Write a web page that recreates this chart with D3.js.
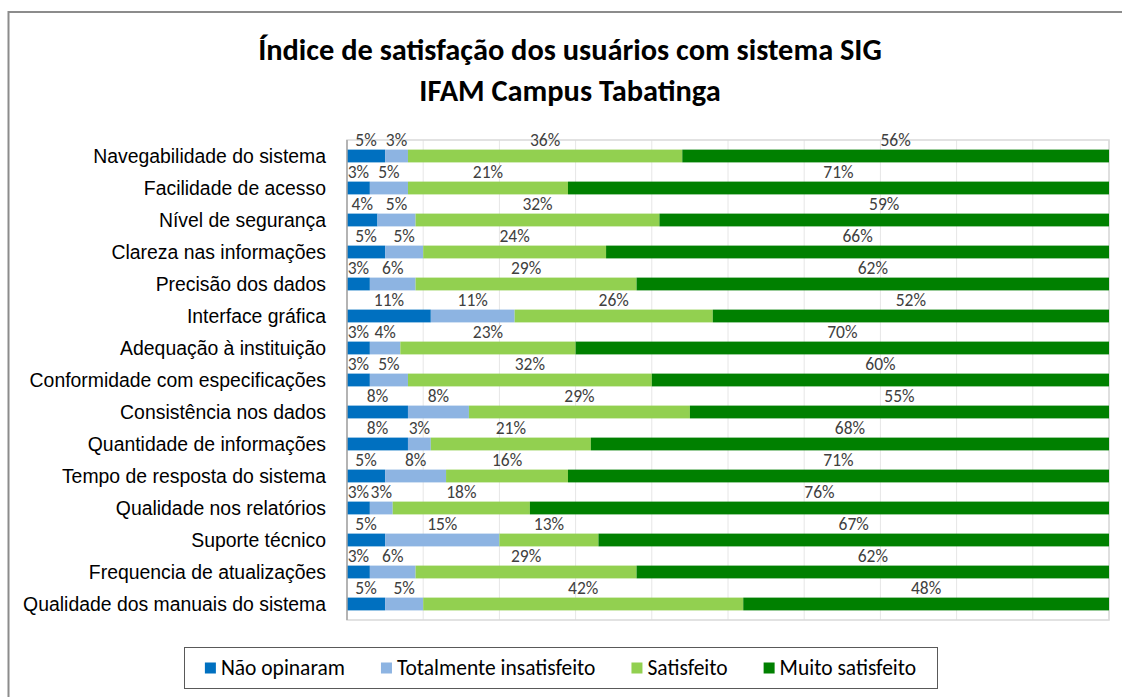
<!DOCTYPE html>
<html>
<head>
<meta charset="utf-8">
<script src="https://cdn.jsdelivr.net/npm/d3@7"></script>
<style>
  body { margin: 0; background: #fff; }
  svg { display: block; }
</style>
</head>
<body>
<svg id="chart" width="1122" height="697"></svg>
<script>
// chart data
const categories = [
  "Navegabilidade do sistema",
  "Facilidade de acesso",
  "Nível de segurança",
  "Clareza nas informações",
  "Precisão dos dados",
  "Interface gráfica",
  "Adequação à instituição",
  "Conformidade com especificações",
  "Consistência nos dados",
  "Quantidade de informações",
  "Tempo de resposta do sistema",
  "Qualidade nos relatórios",
  "Suporte técnico",
  "Frequencia de atualizações",
  "Qualidade dos manuais do sistema"
];
const seriesNames = ["Não opinaram", "Totalmente insatisfeito", "Satisfeito", "Muito satisfeito"];
const naoOpinaram     = [5, 3, 4, 5, 3, 11, 3, 3, 8, 8, 5, 3, 5, 3, 5];
const insatisfeito    = [3, 5, 5, 5, 6, 11, 4, 5, 8, 3, 8, 3, 15, 6, 5];
const satisfeito      = [36, 21, 32, 24, 29, 26, 23, 32, 29, 21, 16, 18, 13, 29, 42];
const muitoSatisfeito = [56, 71, 59, 66, 62, 52, 70, 60, 55, 68, 71, 76, 67, 62, 48];
const xTicks = [0, 10, 20, 30, 40, 50, 60, 70, 80, 90, 100];

const colors = ["#0070C0", "#8DB4E2", "#92D050", "#008000"];

const svg = d3.select("#chart");
const calibri = "Carlito, Lato, 'Open Sans', sans-serif";

// --- frame ---
svg.append("rect")
  .attr("x", 8.5).attr("y", 12)
  .attr("width", 1130).attr("height", 700)
  .attr("fill", "#fff")
  .attr("stroke", "#8c8c8c")
  .attr("stroke-width", 2);

// --- title ---
const title = svg.append("text")
  .attr("text-anchor", "middle")
  .attr("font-family", calibri)
  .attr("font-weight", "bold")
  .attr("font-size", 30.4)
  .attr("fill", "#000");
title.append("tspan").attr("x", 570).attr("y", 60).text("Índice de satisfação dos usuários com sistema SIG");
title.append("tspan").attr("x", 570).attr("y", 101).text("IFAM Campus Tabatinga");

// --- plot area ---
const plot = { left: 347, right: 1109, top: 140, bottom: 620 };

const x = d3.scaleLinear().domain([0, 100]).range([plot.left, plot.right]);
const y = d3.scaleBand().domain(categories)
  .range([plot.top, plot.bottom])
  .paddingInner(0.6).paddingOuter(0.3);

// gridlines
svg.append("g")
  .selectAll("line")
  .data(xTicks)
  .join("line")
  .attr("x1", d => x(d)).attr("x2", d => x(d))
  .attr("y1", plot.top).attr("y2", plot.bottom)
  .attr("stroke", "#e6e6e6")
  .attr("stroke-width", 1);

// plot border
svg.append("rect")
  .attr("x", plot.left).attr("y", plot.top)
  .attr("width", plot.right - plot.left).attr("height", plot.bottom - plot.top)
  .attr("fill", "none")
  .attr("stroke", "#d9d9d9")
  .attr("stroke-width", 1.5);

// stacked data
const rows = categories.map((c, i) => ({
  category: c,
  v0: naoOpinaram[i],
  v1: insatisfeito[i],
  v2: satisfeito[i],
  v3: muitoSatisfeito[i]
}));
const stack = d3.stack().keys(["v0", "v1", "v2", "v3"]);
const stacked = stack(rows);

const layers = svg.append("g")
  .selectAll("g")
  .data(stacked)
  .join("g")
  .attr("fill", (d, i) => colors[i]);

layers.selectAll("rect")
  .data(d => d)
  .join("rect")
  .attr("x", d => x(d[0]))
  .attr("y", d => y(d.data.category))
  .attr("width", d => x(d[1]) - x(d[0]))
  .attr("height", y.bandwidth());

// data labels above each segment
layers.selectAll("text")
  .data(d => d)
  .join("text")
  .attr("x", d => (x(d[0]) + x(d[1])) / 2)
  .attr("y", d => y(d.data.category) - 3.5)
  .attr("text-anchor", "middle")
  .attr("font-family", calibri)
  .attr("font-size", 17.5)
  .attr("fill", "#404040")
  .text(d => (d[1] - d[0]) + "%");

// left axis line
svg.append("line")
  .attr("x1", plot.left).attr("x2", plot.left)
  .attr("y1", plot.top).attr("y2", plot.bottom)
  .attr("stroke", "#a6a6a6")
  .attr("stroke-width", 1.5);

// category labels
svg.append("g")
  .selectAll("text")
  .data(categories)
  .join("text")
  .attr("x", plot.left - 21)
  .attr("y", d => y(d) + y.bandwidth() / 2)
  .attr("dy", "0.36em")
  .attr("text-anchor", "end")
  .attr("font-family", "'Liberation Sans', Arial, sans-serif")
  .attr("font-size", 19.4)
  .attr("fill", "#000")
  .text(d => d);

// --- legend ---
const legendBox = { x: 184, y: 647, w: 753, h: 41 };
svg.append("rect")
  .attr("x", legendBox.x + 0.5).attr("y", legendBox.y + 0.5)
  .attr("width", legendBox.w).attr("height", legendBox.h)
  .attr("fill", "#fff")
  .attr("stroke", "#595959")
  .attr("stroke-width", 1);

const legend = svg.append("g");
const items = legend.selectAll("g")
  .data(seriesNames)
  .join("g");

items.append("rect")
  .attr("width", 11).attr("height", 11)
  .attr("y", -5)
  .attr("fill", (d, i) => colors[i]);

items.append("text")
  .attr("x", 16)
  .attr("dy", "0.35em")
  .attr("font-family", calibri)
  .attr("font-size", 21.5)
  .attr("fill", "#000")
  .text(d => d);

// lay items out one after another, centered in the box
const gap = 36;
let widths = [];
items.each(function () {
  widths.push(16 + d3.select(this).select("text").node().getComputedTextLength());
});
const total = d3.sum(widths) + gap * (widths.length - 1);
let cursor = legendBox.x + (legendBox.w - total) / 2;
items.attr("transform", (d, i) => {
  const t = `translate(${cursor},${legendBox.y + legendBox.h / 2})`;
  cursor += widths[i] + gap;
  return t;
});
</script>
</body>
</html>
